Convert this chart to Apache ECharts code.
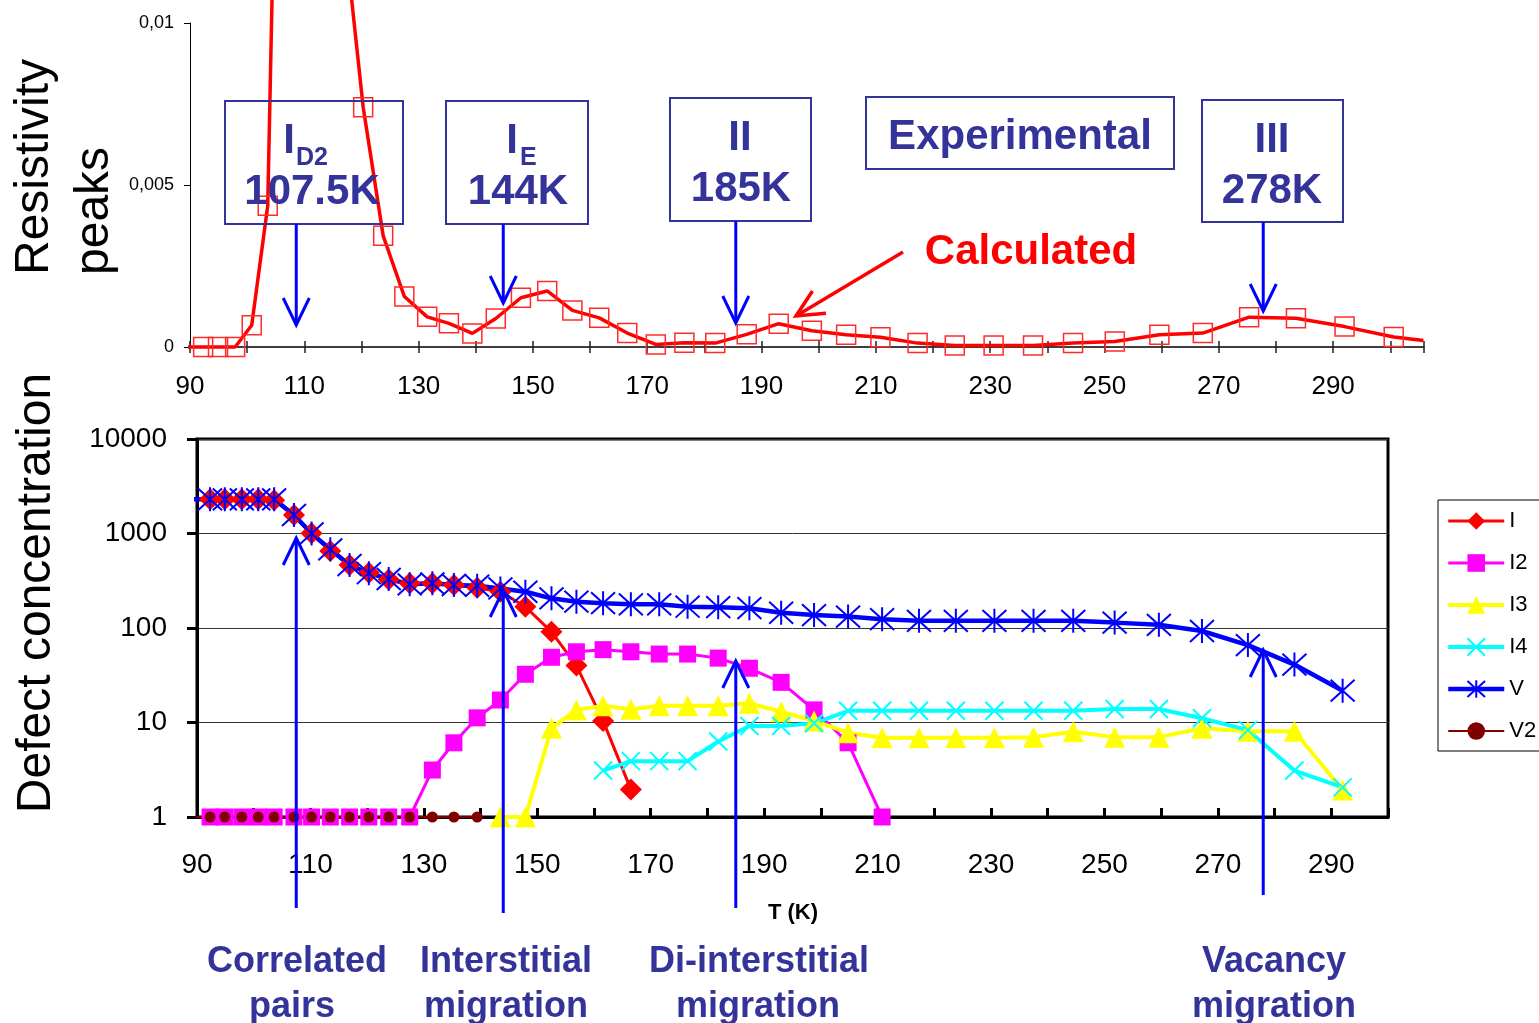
<!DOCTYPE html>
<html>
<head>
<meta charset="utf-8">
<script src="https://cdn.jsdelivr.net/npm/echarts@6/dist/echarts.min.js"></script>
<style>
  html, body { margin: 0; padding: 0; background: #fff; }
  #chart { width: 1539px; height: 1023px; }
</style>
</head>
<body>
<div id="chart"></div>
<script>
// Annealing temperatures (K) shared by both panels
const TEMPS = [88.2, 92.3, 94.9, 97.9, 100.8, 103.6, 107.1, 110.2, 113.5, 116.9,
  120.3, 123.8, 127.5, 131.5, 135.3, 139.4, 143.5, 147.9, 152.5, 156.9,
  161.6, 166.5, 171.5, 176.5, 181.9, 187.4, 193.0, 198.8, 204.8, 210.8,
  217.3, 223.8, 230.6, 237.5, 244.5, 251.8, 259.6, 267.2, 275.3, 283.5,
  292.0, 300.6, 305.8];

// Calculated resistivity recovery peaks (upper panel)
const TOP_RHO = [0, 0, 0, 0, 0.00067, 0.00436, 0.0341, 0.030, 0.022, 0.013,
  0.0074, 0.00343, 0.00156, 0.00093, 0.00073, 0.00042, 0.00088, 0.00152, 0.00173, 0.00113,
  0.0009, 0.00043, 0.00008, 0.00013, 0.00012, 0.00039, 0.00072, 0.0005, 0.00038, 0.0003,
  0.00012, 0.00005, 0.00005, 0.00005, 0.00012, 0.00017, 0.00038, 0.00043, 0.00092, 0.00089,
  0.00063, 0.00031, 0.0002];

// Defect concentrations (lower panel), aligned with TEMPS
const I_CONC = [null, 2300, 2300, 2300, 2300, 2250, 1570, 1005, 653, 464,
  385, 327, 297, 297, 285, 267, 242, 168, 91, 40,
  10.4, 1.96, null, null, null, null, null, null, null, null,
  null, null, null, null, null, null, null, null, null, null, null];
const I2_CONC = [null, 1, 1, 1, 1, 1, 1, 1, 1, 1,
  1, 1, 1, 3.14, 6.1, 11.2, 17.3, 32.4, 49, 56,
  59, 56, 53, 53, 48, 37.5, 26.6, 13.6, 6.1, 1,
  null, null, null, null, null, null, null, null, null, null, null];
const I3_CONC = [null, null, null, null, null, null, null, null, null, null,
  null, null, null, null, null, null, 1, 1, 8.7, 13.6,
  15, 13.8, 15, 15, 15, 16, 13, 10.4, 7.8, 6.9,
  6.9, 6.9, 6.9, 7.0, 8.0, 7.0, 7.0, 8.7, 8.1, 8.1, 1.93];
const I4_CONC = [null, null, null, null, null, null, null, null, null, null,
  null, null, null, null, null, null, null, null, null, null,
  3.1, 3.9, 3.9, 3.9, 6.3, 9.2, 9.2, 9.8, 13.3, 13.3,
  13.3, 13.3, 13.3, 13.3, 13.3, 13.9, 13.9, 11.1, 8.3, 3.1, 2.06];
const V_CONC = [2300, 2300, 2300, 2300, 2300, 2300, 1570, 1000, 680, 464,
  380, 330, 290, 297, 285, 280, 262, 242, 206, 190,
  183, 178, 178, 168, 166, 162, 145, 137, 132, 124,
  119, 119, 119, 119, 119, 114, 108, 93, 66, 41, 21.7];
const V2_CONC = [1, 1, 1, 1, 1, 1, 1, 1, 1, 1,
  1, 1, 1, 1, 1, 1, null, null, null, null,
  null, null, null, null, null, null, null, null, null, null,
  null, null, null, null, null, null, null, null, null, null, null];

// Experimental resistivity peaks and their stage names
const EXP_PEAKS = [107.5, 144, 185, 278];
const STAGE_MAIN = ['I', 'I', 'II', 'III'];
const STAGE_SUB = ['D2', 'E', '', ''];
const PROCESS_LINES = [['Correlated', 'pairs'], ['Interstitial', 'migration'],
  ['Di-interstitial', 'migration'], ['Vacancy', 'migration']];
const X_TICK_LABELS = [90, 110, 130, 150, 170, 190, 210, 230, 250, 270, 290];

const FONT = '"Liberation Sans", Arial, sans-serif';
const NAVY = '#333399';
const BLUE = '#0000ff';

const chart = echarts.init(document.getElementById('chart'), null, { renderer: 'canvas' });

function xLabel(v) {
  const r = Math.round(v);
  return Math.abs(v - r) < 1e-6 && X_TICK_LABELS.indexOf(r) >= 0 ? String(r) : '';
}

function pairs(values, xMin, xMax) {
  const out = [];
  TEMPS.forEach(function (t, i) {
    const v = values[i];
    if (v === null || v === undefined) return;
    if (t < xMin || t > xMax) out.push({ value: [t, v], symbol: 'none' });
    else out.push([t, v]);
  });
  return out;
}

const CROSS = 'path://M0,0L10,10M10,0L0,10';
const STAR = 'path://M0,0L10,10M10,0L0,10M5,-0.5L5,10.5';

function lowerSeries(name, values, color, symbol, size, lineWidth, stroke) {
  const s = {
    name: name, type: 'line', xAxisIndex: 2, yAxisIndex: 1,
    data: pairs(values, 90, 300),
    clip: false,
    symbol: symbol, symbolSize: size,
    showAllSymbol: true,
    lineStyle: { color: color, width: lineWidth },
    itemStyle: { color: color },
    emphasis: { disabled: true }
  };
  if (stroke) {
    s.itemStyle = { color: color, borderColor: color, borderWidth: stroke };
  }
  return s;
}

const LEGEND_WIDTHS = { I: 3, I2: 3, I3: 4, I4: 4, V: 4.5, V2: 2 };

const option = {
  animation: false,
  backgroundColor: '#ffffff',
  textStyle: { fontFamily: FONT },
  grid: [
    { left: 190, right: 115, top: 23, height: 324, outerBoundsMode: 'none' },
    { left: 197, right: 151, top: 439, height: 378, show: true,
      borderColor: '#000', borderWidth: 3, backgroundColor: '#fff', outerBoundsMode: 'none' }
  ],
  xAxis: [
    { gridIndex: 0, type: 'value', position: 'bottom', min: 90, max: 305.9, interval: 10,
      axisLine: { show: true, onZero: false, lineStyle: { color: '#000', width: 1.5 } },
      axisTick: { show: true, inside: false, length: 6, lineStyle: { color: '#222', width: 1.5 } },
      axisLabel: { show: true, margin: 27, fontSize: 26, color: '#000', fontFamily: FONT,
        formatter: xLabel, showMinLabel: true, showMaxLabel: true },
      splitLine: { show: false } },
    { gridIndex: 0, type: 'value', position: 'bottom', min: 90, max: 305.9, interval: 10,
      axisLine: { show: false, onZero: false },
      axisTick: { show: true, inside: true, length: 6, lineStyle: { color: '#222', width: 1.5 } },
      axisLabel: { show: false }, splitLine: { show: false } },
    { gridIndex: 1, type: 'value', position: 'bottom', min: 90, max: 300, interval: 10,
      axisLine: { show: true, onZero: false, lineStyle: { color: '#000', width: 3 } },
      axisTick: { show: true, inside: true, length: 9, lineStyle: { color: '#000', width: 3 } },
      axisLabel: { show: true, margin: 34, fontSize: 28, color: '#000', fontFamily: FONT,
        formatter: xLabel, showMinLabel: true, showMaxLabel: true },
      splitLine: { show: false } }
  ],
  yAxis: [
    { gridIndex: 0, type: 'value', min: 0, max: 0.01, interval: 0.005,
      axisLine: { show: true, onZero: false, lineStyle: { color: '#000', width: 1 } },
      axisTick: { show: true, length: 6, lineStyle: { color: '#000', width: 1 } },
      axisLabel: { show: true, margin: 16, fontSize: 18, color: '#000', fontFamily: FONT,
        formatter: function (v) { return v === 0 ? '0' : String(+v.toFixed(4)).replace('.', ','); } },
      splitLine: { show: false } },
    { gridIndex: 1, type: 'log', logBase: 10, min: 1, max: 10000,
      axisLine: { show: true, onZero: false, lineStyle: { color: '#000', width: 3 } },
      axisTick: { show: true, length: 10, lineStyle: { color: '#000', width: 3 } },
      axisLabel: { show: true, margin: 30, fontSize: 28, color: '#000', fontFamily: FONT,
        formatter: function (v) { return String(Math.round(v)); } },
      splitLine: { show: true, lineStyle: { color: '#333', width: 1 } },
      minorTick: { show: false }, minorSplitLine: { show: false } }
  ],
  legend: {
    data: ['I', 'I2', 'I3', 'I4', 'V', 'V2'].map(function (n) {
      return { name: n, lineStyle: { width: LEGEND_WIDTHS[n] } };
    }),
    orient: 'vertical', left: 1438, top: 500,
    padding: [10, 40, 9, 8],
    itemWidth: 56, itemHeight: 22, itemGap: 20,
    borderColor: '#000', borderWidth: 1, backgroundColor: '#fff',
    textStyle: { fontSize: 22, color: '#000', fontFamily: FONT },
    selectedMode: false
  },
  series: [
    { name: 'Calculated', type: 'line', xAxisIndex: 0, yAxisIndex: 0,
      data: pairs(TOP_RHO, 90, 303), clip: false,
      symbol: 'rect', symbolSize: 19, showAllSymbol: true,
      lineStyle: { color: '#ff0000', width: 3.5 },
      itemStyle: { color: 'rgba(255,255,255,0)', borderColor: '#ff2a2a', borderWidth: 1.5 },
      emphasis: { disabled: true }, z: 3 },
    lowerSeries('I', I_CONC, '#ff0000', 'diamond', 22, 3),
    lowerSeries('I2', I2_CONC, '#ff00ff', 'rect', 17, 3),
    lowerSeries('I3', I3_CONC, '#ffff00', 'triangle', 21, 4),
    lowerSeries('I4', I4_CONC, '#00ffff', CROSS, 18, 4, 2),
    lowerSeries('V', V_CONC, '#0000ff', STAR, 24, 4.5, 2),
    lowerSeries('V2', V2_CONC, '#800000', 'circle', 11, 2)
  ]
};

chart.setOption(option);

// ---- annotations ----
function arrow(x1, y1, x2, y2, color, width) {
  // open V-shaped head at (x2, y2)
  const a = Math.atan2(y1 - y2, x1 - x2);
  const len = 30, spread = 0.45;
  const p1 = [x2 + len * Math.cos(a + spread), y2 + len * Math.sin(a + spread)];
  const p2 = [x2 + len * Math.cos(a - spread), y2 + len * Math.sin(a - spread)];
  return [
    { type: 'line', z: 50, shape: { x1: x1, y1: y1, x2: x2, y2: y2 },
      style: { stroke: color, lineWidth: width } },
    { type: 'polyline', z: 50, shape: { points: [p1, [x2, y2], p2] },
      style: { stroke: color, lineWidth: width, fill: null } }
  ];
}

function text(str, x, y, size, color, opts) {
  opts = opts || {};
  return {
    type: 'text', z: 60, x: x, y: y, rotation: opts.rotation || 0,
    style: {
      text: str, font: (opts.bold ? 'bold ' : '') + size + 'px ' + FONT,
      fill: color,
      align: opts.align || 'center', verticalAlign: 'middle',
      textAlign: opts.align || 'center', textVerticalAlign: 'middle'
    }
  };
}

// annotation boxes layout (pixels)
const BOXES = [
  { x: 225, y: 101, w: 178, h: 123, mainX: 289, subX: 296, valX: 312 },
  { x: 446, y: 101, w: 142, h: 123, mainX: 512, subX: 520, valX: 518 },
  { x: 670, y: 98, w: 141, h: 123, mainX: 740, subX: 0, valX: 741 },
  { x: 1202, y: 100, w: 141, h: 122, mainX: 1272, subX: 0, valX: 1272 }
];
const TOP_ARROW_TIP = [325, 303, 323, 311];
const LOW_ARROW = [[908, 538], [913, 590], [908, 661], [895, 650]];
const LABEL_X = [[297, 292], [506, 506], [759, 758], [1274, 1274]];

const g = [];
EXP_PEAKS.forEach(function (t, i) {
  const b = BOXES[i];
  const px = chart.convertToPixel({ xAxisIndex: 2 }, t);
  g.push({ type: 'rect', z: 40, shape: { x: b.x, y: b.y, width: b.w, height: b.h },
    style: { fill: null, stroke: NAVY, lineWidth: 2 } });
  g.push(text(STAGE_MAIN[i], b.mainX, b.y + 40, 42, NAVY, { bold: true }));
  if (STAGE_SUB[i]) g.push(text(STAGE_SUB[i], b.subX, b.y + 57, 25, NAVY, { bold: true, align: 'left' }));
  g.push(text(t + 'K', b.valX, b.y + 91, 42, NAVY, { bold: true }));
  arrow(px, b.y + b.h, px, TOP_ARROW_TIP[i], BLUE, 3).forEach(function (e) { g.push(e); });
  arrow(px, LOW_ARROW[i][0], px, LOW_ARROW[i][1], BLUE, 3).forEach(function (e) { g.push(e); });
  g.push(text(PROCESS_LINES[i][0], LABEL_X[i][0], 962, 36, NAVY, { bold: true }));
  g.push(text(PROCESS_LINES[i][1], LABEL_X[i][1], 1007, 36, NAVY, { bold: true }));
});

g.push({ type: 'rect', z: 40, shape: { x: 866, y: 97, width: 308, height: 72 },
  style: { fill: null, stroke: NAVY, lineWidth: 2 } });
g.push(text('Experimental', 1020, 137, 42, NAVY, { bold: true }));
g.push(text('Calculated', 1031, 252, 42, '#ff0000', { bold: true }));
arrow(903, 252, 796, 316, '#ff0000', 3.5).forEach(function (e) { g.push(e); });

g.push(text('T (K)', 793, 913, 22, '#000', { bold: true }));
g.push(text('Resistivity', 35, 275, 48, '#000', { rotation: Math.PI / 2, align: 'left' }));
g.push(text('peaks', 95, 275, 48, '#000', { rotation: Math.PI / 2, align: 'left' }));
g.push(text('Defect concentration', 37, 593, 48, '#000', { rotation: Math.PI / 2 }));

chart.setOption({ graphic: g });
</script>
</body>
</html>
